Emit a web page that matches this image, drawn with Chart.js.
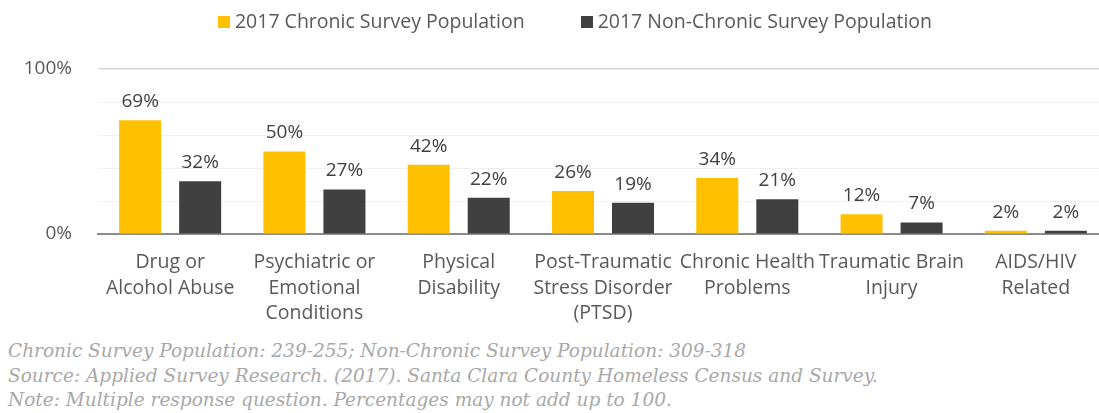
<!DOCTYPE html>
<html>
<head>
<meta charset="utf-8">
<script src="https://cdn.jsdelivr.net/npm/chart.js@4"></script>
<style>
  html, body { margin: 0; padding: 0; background: #fff; }
  #wrap { position: relative; width: 1099px; height: 413px; overflow: hidden; }
  #c { position: absolute; left: 0; top: 0; }
  #legend { position: absolute; left: 0; top: 8px; width: 1150px; text-align: center; font-family: 'Open Sans', 'Noto Sans', sans-serif; font-size: 19.5px; color: #595959; line-height: 26px; white-space: nowrap; }
  .li { display: inline-block; margin: 0 28px; }
  .sw { display: inline-block; width: 12px; height: 12px; margin-right: 5px; vertical-align: 0px; }
  .note { position: absolute; left: 8px; font-family: "DejaVu Serif", serif; font-style: italic; font-size: 18.5px; line-height: 22px; color: #a8a8a8; white-space: nowrap; }
</style>
</head>
<body>
<div id="wrap">
  <canvas id="c" width="1124" height="340"></canvas>
  <div id="legend"></div>
  <div class="note" style="top:340px">Chronic Survey Population: 239-255; Non-Chronic Survey Population: 309-318</div>
  <div class="note" style="top:365px">Source: Applied Survey Research. (2017). Santa Clara County Homeless Census and Survey.</div>
  <div class="note" style="top:389px">Note: Multiple response question. Percentages may not add up to 100.</div>
</div>
<script>
const categories = [
  ["Drug or", "Alcohol Abuse"],
  ["Psychiatric or", "Emotional", "Conditions"],
  ["Physical", "Disability"],
  ["Post-Traumatic", "Stress Disorder", "(PTSD)"],
  ["Chronic Health", "Problems"],
  ["Traumatic Brain", "Injury"],
  ["AIDS/HIV", "Related"]
];
const seriesNames = ["2017 Chronic Survey Population", "2017 Non-Chronic Survey Population"];
const seriesColors = ["#FFC000", "#404040"];
const chronic = [69, 50, 42, 26, 34, 12, 2];
const nonChronic = [32, 27, 22, 19, 21, 7, 2];
const yTickLabels = { 0: "0%", 100: "100%" };

const FONT = "'Open Sans', 'Noto Sans', sans-serif";

// HTML legend built from series names/colors
const lg = document.getElementById('legend');
seriesNames.forEach((n, i) => {
  const item = document.createElement('span');
  item.className = 'li';
  const sw = document.createElement('span');
  sw.className = 'sw';
  sw.style.background = seriesColors[i];
  item.appendChild(sw);
  item.appendChild(document.createTextNode(n));
  lg.appendChild(item);
});

const labelPlugin = {
  id: 'barLabels',
  afterDatasetsDraw(chart) {
    const ctx = chart.ctx;
    ctx.save();
    ctx.font = "19px " + FONT;
    ctx.fillStyle = "#404040";
    ctx.textAlign = "center";
    ctx.textBaseline = "bottom";
    chart.data.datasets.forEach((ds, i) => {
      const meta = chart.getDatasetMeta(i);
      meta.data.forEach((bar, j) => {
        ctx.fillText(ds.data[j] + "%", bar.x, bar.y - 9);
      });
    });
    ctx.restore();
  }
};

new Chart(document.getElementById('c'), {
  type: 'bar',
  data: {
    labels: categories,
    datasets: [
      { label: seriesNames[0], data: chronic, backgroundColor: seriesColors[0], categoryPercentage: 0.832, barPercentage: 0.7 },
      { label: seriesNames[1], data: nonChronic, backgroundColor: seriesColors[1], categoryPercentage: 0.832, barPercentage: 0.7 }
    ]
  },
  options: {
    responsive: false,
    animation: false,
    layout: { padding: { left: 22, right: 16, top: 69, bottom: 6 } },
    plugins: {
      legend: { display: false },
      tooltip: { enabled: false }
    },
    scales: {
      x: {
        afterFit: (s) => { s.height = 100; },
        grid: { display: false },
        border: { display: true, color: "#8c8c8c", width: 2 },
        ticks: { color: "#595959", font: { family: FONT, size: 19.5, lineHeight: 1.31 }, maxRotation: 0, autoSkip: false, padding: 8 }
      },
      y: {
        min: 0, max: 100,
        afterFit: (s) => { s.width = 76; },
        border: { display: false },
        grid: {
          drawTicks: false,
          color: (c) => c.tick && c.tick.value === 100 ? "#d9d9d9" : (c.tick && c.tick.value === 0 ? "rgba(0,0,0,0)" : "#f0f0f0"),
          lineWidth: (c) => c.tick && c.tick.value === 100 ? 1.5 : 1
        },
        ticks: {
          stepSize: 20,
          padding: 26,
          color: "#595959",
          font: { family: FONT, size: 19 },
          callback: (v) => yTickLabels[v] || ""
        }
      }
    }
  },
  plugins: [labelPlugin]
});
</script>
</body>
</html>
